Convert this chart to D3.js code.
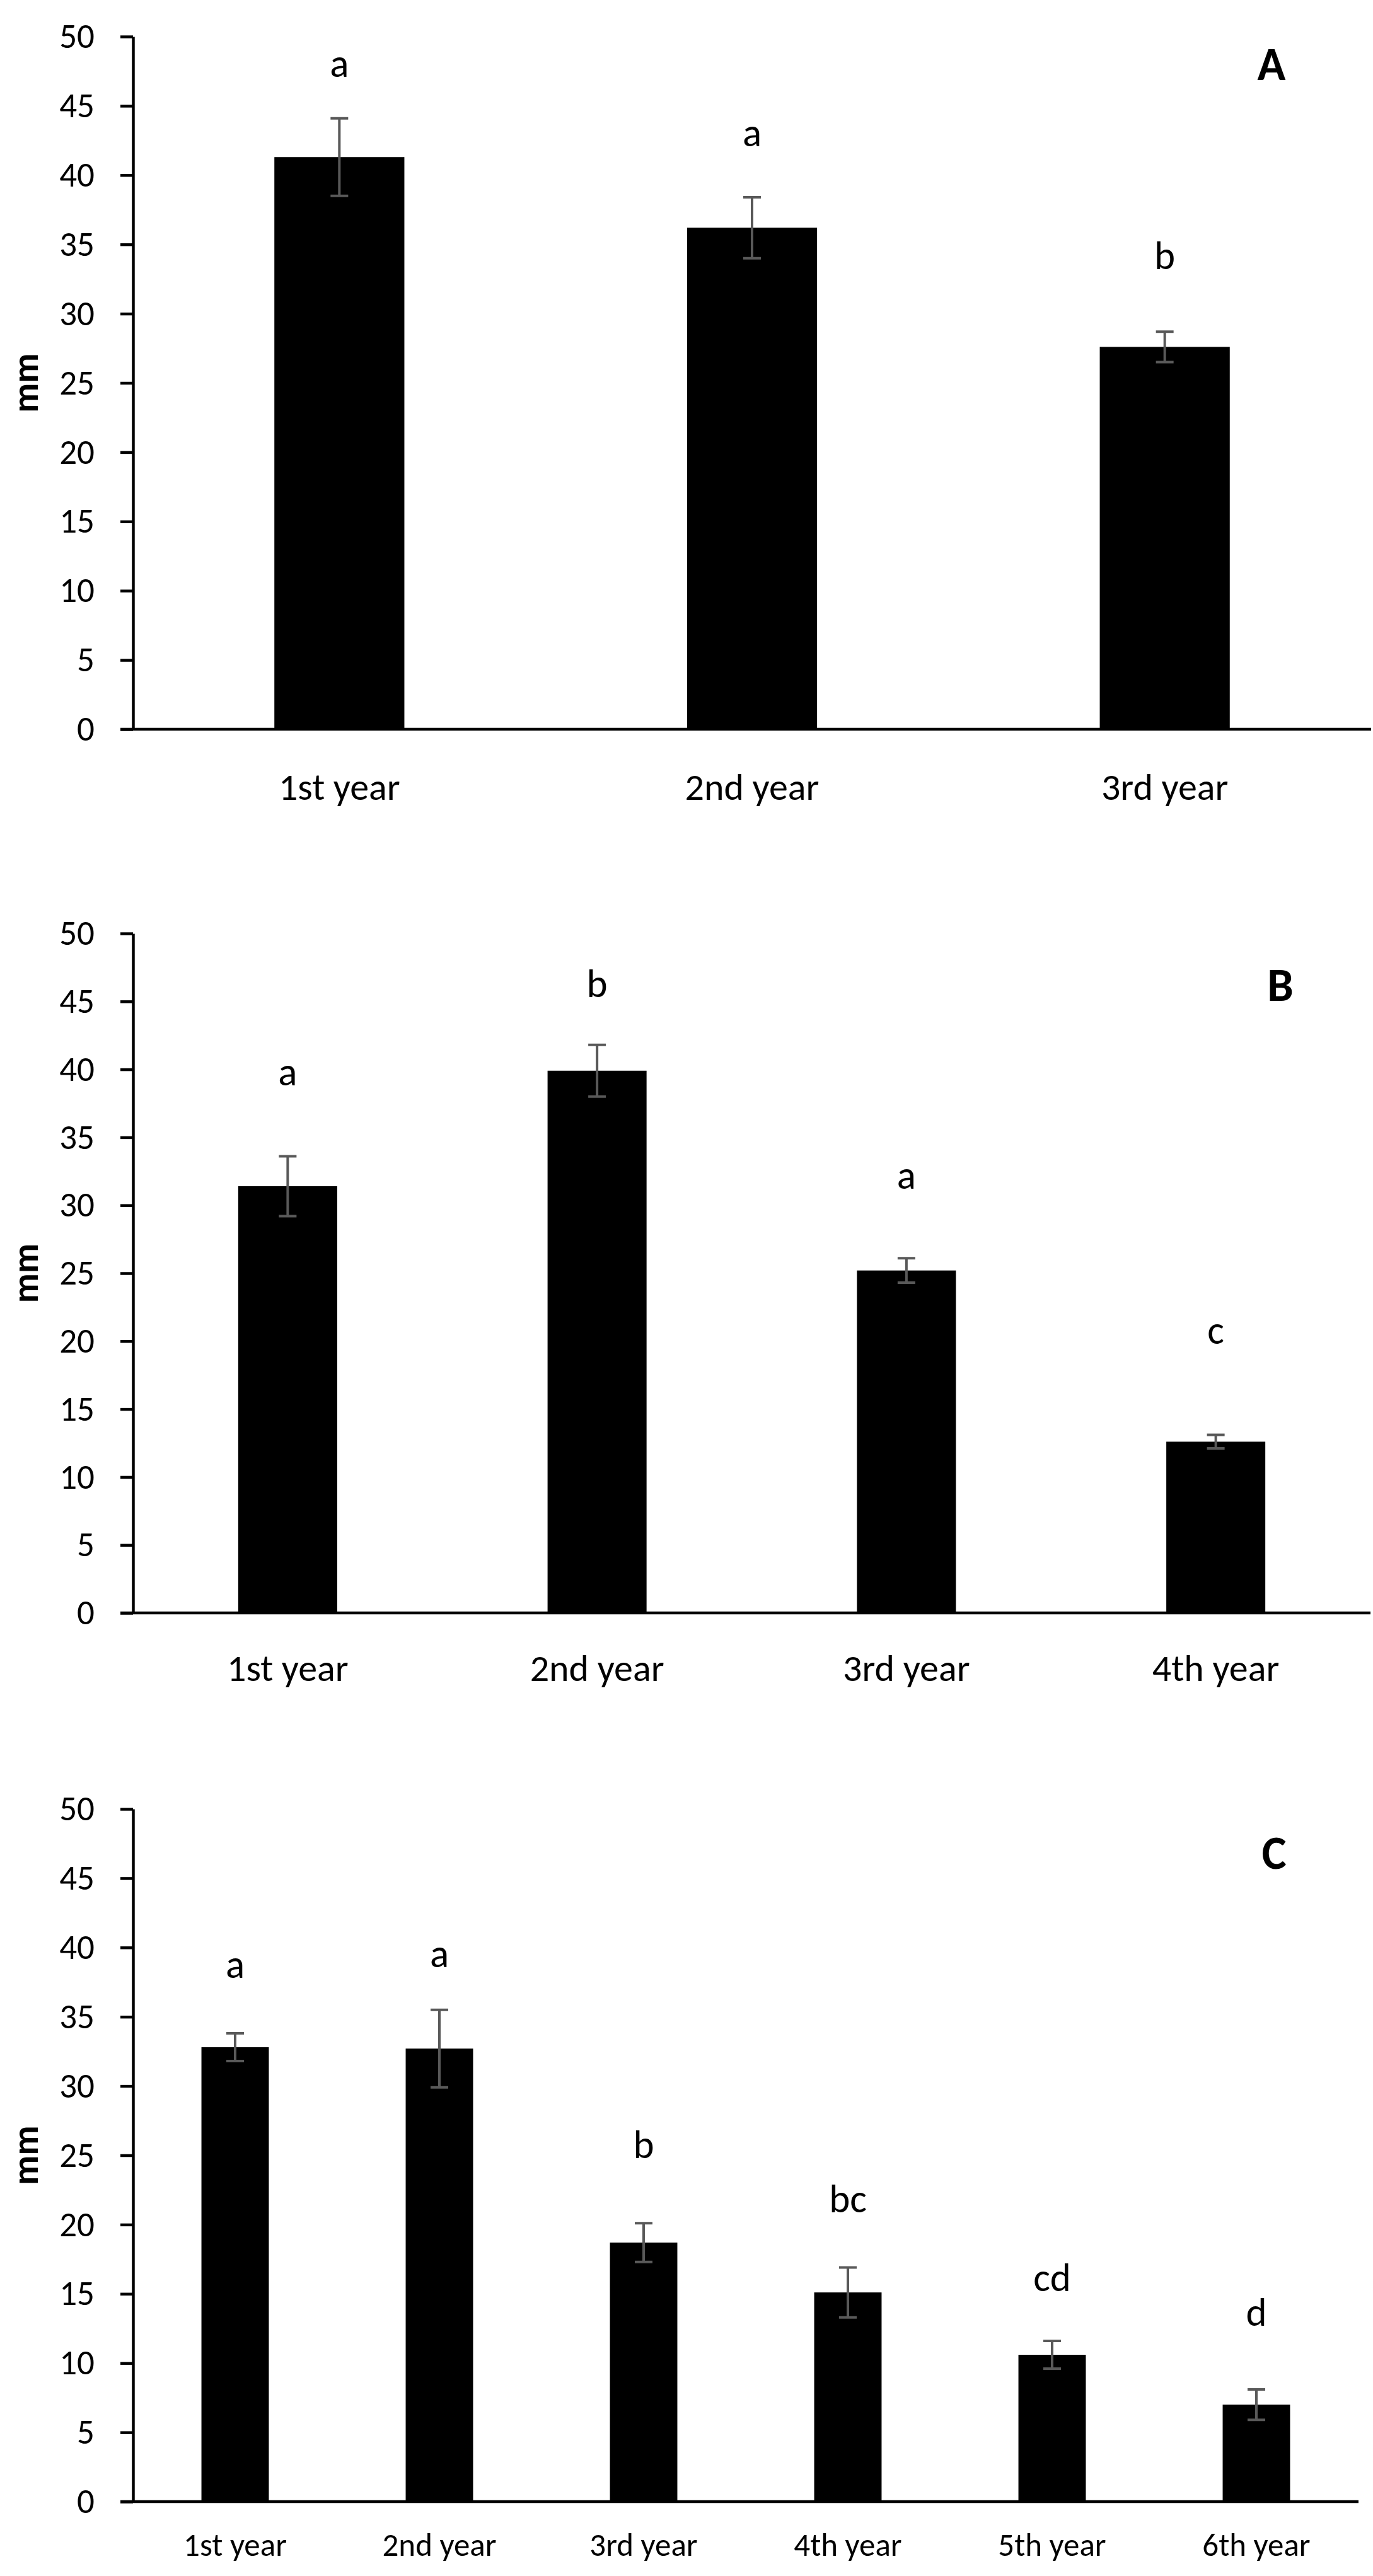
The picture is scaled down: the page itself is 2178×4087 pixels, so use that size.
<!DOCTYPE html>
<html>
<head>
<meta charset="utf-8">
<title>Annual growth, mm</title>
<script src="https://cdn.jsdelivr.net/npm/d3@7"></script>
<style>
    body { margin: 0; background: #fff; }
    svg { display: block; }
    text { font-family: Carlito, Lato, "Open Sans", sans-serif; fill: #000; }
    .axis path, .axis line { stroke: #000; stroke-width: 4.5; }
    .axis text { font-size: 55px; }
    .bar { fill: #000; }
    .err { stroke: #595959; stroke-width: 4; fill: none; }
</style>
</head>
<body>
<div id="chart"></div>
<script>
    // values (mm), one set per panel
    var yearsA = ["1st year", "2nd year", "3rd year"];
    var meanA = [41.3, 36.2, 27.6];
    var seA = [2.8, 2.2, 1.1];
    var lettersA = ["a", "a", "b"];
    var letterAtA = [47.1, 42.1, 33.2];

    var yearsB = ["1st year", "2nd year", "3rd year", "4th year"];
    var meanB = [31.4, 39.9, 25.2, 12.6];
    var seB = [2.2, 1.9, 0.9, 0.5];
    var lettersB = ["a", "b", "a", "c"];
    var letterAtB = [38.8, 45.3, 31.2, 19.8];

    var yearsC = ["1st year", "2nd year", "3rd year", "4th year", "5th year", "6th year"];
    var meanC = [32.8, 32.7, 18.7, 15.1, 10.6, 7.0];
    var seC = [1.0, 2.8, 1.4, 1.8, 1.0, 1.1];
    var lettersC = ["a", "a", "b", "bc", "cd", "d"];
    var letterAtC = [37.8, 38.6, 24.8, 20.9, 15.2, 12.7];

    var yTicks = [0, 5, 10, 15, 20, 25, 30, 35, 40, 45, 50];

    var w = 2178;
    var h = 4087;

    // page layout of the three panels
    var panels = [
        {name: "A", years: yearsA, mean: meanA, se: seA, letters: lettersA, letterAt: letterAtA,
         top: 58, bottom: 1157, right: 2175, barFrac: 0.315, catSize: 60, catDrop: 112, tagX: 2017, tagDrop: 69},
        {name: "B", years: yearsB, mean: meanB, se: seB, letters: lettersB, letterAt: letterAtB,
         top: 1481, bottom: 2559, right: 2174, barFrac: 0.32, catSize: 60, catDrop: 108, tagX: 2031, tagDrop: 107},
        {name: "C", years: yearsC, mean: meanC, se: seC, letters: lettersC, letterAt: letterAtC,
         top: 2870, bottom: 3969, right: 2155, barFrac: 0.33, catSize: 51, catDrop: 86, tagX: 2021, tagDrop: 95}
    ];
    var left = 211;

    var svg = d3.select("#chart")
        .append("svg")
        .attr("width", w)
        .attr("height", h);

    panels.forEach(function(p) {
        var g = svg.append("g");

        var x = d3.scaleBand()
            .domain(p.years)
            .range([left, p.right])
            .paddingInner(1 - p.barFrac)
            .paddingOuter((1 - p.barFrac) / 2);

        var y = d3.scaleLinear()
            .domain([0, 50])
            .range([p.bottom, p.top]);

        var cx = function(d) { return x(d) + x.bandwidth() / 2; };

        // bars
        g.selectAll("rect")
            .data(p.years)
            .enter()
            .append("rect")
            .attr("class", "bar")
            .attr("x", function(d) { return x(d); })
            .attr("width", x.bandwidth())
            .attr("y", function(d, i) { return y(p.mean[i]); })
            .attr("height", function(d, i) { return y(0) - y(p.mean[i]); });

        // error bars (mean +/- se)
        var cap = 14;
        g.selectAll(".eb")
            .data(p.years)
            .enter()
            .append("path")
            .attr("class", "err")
            .attr("d", function(d, i) {
                var hi = y(p.mean[i] + p.se[i]), lo = y(p.mean[i] - p.se[i]), c = cx(d);
                return "M" + c + "," + hi + "V" + lo +
                       "M" + (c - cap) + "," + hi + "H" + (c + cap) +
                       "M" + (c - cap) + "," + lo + "H" + (c + cap);
            });

        // y axis
        g.append("g")
            .attr("class", "axis")
            .attr("transform", "translate(" + left + ",0)")
            .call(d3.axisLeft(y).tickValues(yTicks).tickSize(20).tickPadding(41).tickSizeOuter(0));

        // x axis line (no ticks), starts at the end of the 0 tick
        g.append("line")
            .attr("x1", left - 20)
            .attr("x2", p.right)
            .attr("y1", y(0))
            .attr("y2", y(0))
            .attr("stroke", "#000")
            .attr("stroke-width", 4.5);

        // category labels
        g.selectAll(".cat")
            .data(p.years)
            .enter()
            .append("text")
            .attr("x", cx)
            .attr("y", y(0) + p.catDrop)
            .attr("text-anchor", "middle")
            .style("font-size", p.catSize + "px")
            .text(function(d) { return d; });

        // significance letters
        g.selectAll(".sig")
            .data(p.years)
            .enter()
            .append("text")
            .attr("x", cx)
            .attr("y", function(d, i) { return y(p.letterAt[i]); })
            .attr("text-anchor", "middle")
            .style("font-size", "63px")
            .text(function(d, i) { return p.letters[i]; });

        // y title
        g.append("text")
            .attr("transform", "translate(60," + (p.top + p.bottom) / 2 + ") rotate(-90)")
            .attr("text-anchor", "middle")
            .style("font-size", "58px")
            .style("font-weight", "bold")
            .text("mm");

        // panel tag
        g.append("text")
            .attr("x", p.tagX)
            .attr("y", p.top + p.tagDrop)
            .attr("text-anchor", "middle")
            .style("font-size", "74px")
            .style("font-weight", "bold")
            .text(p.name);
    });
</script>
</body>
</html>
